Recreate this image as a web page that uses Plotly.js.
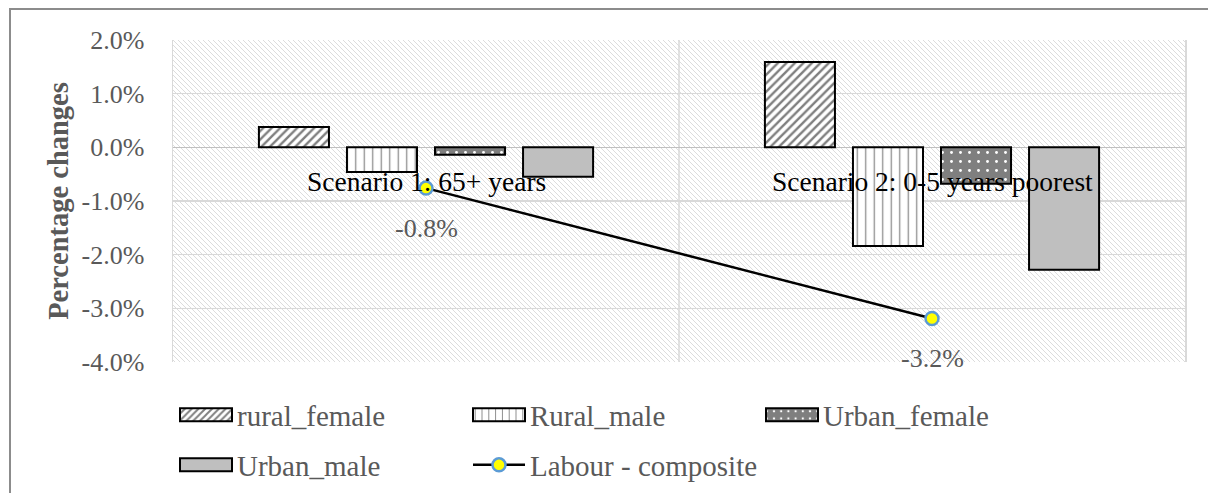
<!DOCTYPE html>
<html>
<head>
<meta charset="utf-8">
<script src="https://cdn.plot.ly/plotly-3.0.1.min.js"></script>
<style>
  html, body { margin: 0; padding: 0; background: #fff; }
  #chart { width: 1208px; height: 493px; }
</style>
</head>
<body>
<div id="chart"></div>
<script>
// ---- Data (percent) ----
var categories = ['Scenario 1: 65+ years', 'Scenario 2: 0-5 years poorest'];
var rural_female = [0.38, 1.59];
var rural_male = [-0.46, -1.84];
var urban_female = [-0.14, -0.68];
var urban_male = [-0.55, -2.28];
var labour_composite = [-0.76, -3.19];
var tickValues = [-4, -3, -2, -1, 0, 1, 2];
var tickLabels = ['-4.0%', '-3.0%', '-2.0%', '-1.0%', '0.0%', '1.0%', '2.0%'];

// ---- Layout geometry ----
var W = 1208, H = 493;
var px = function (v) { return v / W; };
var py = function (v) { return 1 - v / H; };
var xDom = [px(173), px(1185)];
var yDom = [py(362), py(40)];

var FONT = 'Liberation Serif, Times New Roman, serif';
var GREY = '#595959';

// background hatch for the plot area
var hw = 1012, hh = 322;
var hatchSvg = '<svg xmlns="http://www.w3.org/2000/svg" width="' + hw + '" height="' + hh + '">' +
  '<defs><pattern id="h" patternUnits="userSpaceOnUse" width="5" height="5">' +
  '<path d="M0,0L5,5M-2.5,2.5L2.5,7.5M2.5,-2.5L7.5,2.5" stroke="#dcdcdc" stroke-width="1"/>' +
  '</pattern></defs><rect width="' + hw + '" height="' + hh + '" fill="url(#h)"/></svg>';
var hatchUri = 'data:image/svg+xml;charset=utf-8,' + encodeURIComponent(hatchSvg);

var barLine = { color: '#000000', width: 2 };

var traces = [
  {
    type: 'bar', name: 'rural_female', x: categories, y: rural_female,
    marker: { color: '#ffffff', line: barLine,
      pattern: { shape: '/', fgcolor: '#7f7f7f', bgcolor: '#ffffff', size: 6, solidity: 0.4 } },
    legend: 'legend', hoverinfo: 'skip'
  },
  {
    type: 'bar', name: 'Rural_male', x: categories, y: rural_male,
    marker: { color: '#ffffff', line: barLine,
      pattern: { shape: '|', fgcolor: '#8c8c8c', bgcolor: '#ffffff', size: 8.5, solidity: 0.15 } },
    legend: 'legend', hoverinfo: 'skip'
  },
  {
    type: 'bar', name: 'Urban_female', x: categories, y: urban_female,
    marker: { color: '#7f7f7f', line: barLine,
      pattern: { shape: '.', fgcolor: '#ffffff', bgcolor: '#7f7f7f', size: 9, solidity: 0.08 } },
    legend: 'legend', hoverinfo: 'skip'
  },
  {
    type: 'bar', name: 'Urban_male', x: categories, y: urban_male,
    marker: { color: '#bfbfbf', line: barLine },
    legend: 'legend2', hoverinfo: 'skip'
  },
  {
    type: 'scatter', mode: 'lines+markers', name: 'Labour - composite',
    x: categories, y: labour_composite,
    line: { color: '#000000', width: 2.5 },
    marker: { color: '#ffff00', size: 13, line: { color: '#5b9bd5', width: 2.5 } },
    legend: 'legend2', hoverinfo: 'skip'
  }
];

var annotations = [];
categories.forEach(function (c) {
  annotations.push({
    x: c, y: 0, xref: 'x', yref: 'y', text: c, showarrow: false,
    yshift: -34, font: { family: FONT, size: 27.5, color: '#000000' }
  });
});
labour_composite.forEach(function (v, i) {
  annotations.push({
    x: categories[i], y: v, xref: 'x', yref: 'y', text: v.toFixed(1) + '%', showarrow: false,
    yshift: -40, font: { family: FONT, size: 26, color: GREY }
  });
});

var legendCommon = {
  orientation: 'h', xanchor: 'left', yanchor: 'middle',
  font: { family: FONT, size: 29, color: GREY },
  bgcolor: 'rgba(0,0,0,0)', borderwidth: 0,
  itemwidth: 52, entrywidth: 226, entrywidthmode: 'pixels',
  itemclick: false, itemdoubleclick: false, traceorder: 'normal'
};

var layout = {
  width: W, height: H,
  margin: { l: 0, r: 0, t: 0, b: 0, autoexpand: false },
  paper_bgcolor: '#ffffff', plot_bgcolor: 'rgba(0,0,0,0)',
  barmode: 'group', bargap: 0.304, bargroupgap: 0.2045,
  font: { family: FONT, color: GREY },
  xaxis: {
    domain: xDom, type: 'category', showticklabels: false, ticks: '',
    showgrid: false, zeroline: false, showline: false, fixedrange: true
  },
  yaxis: {
    domain: yDom, range: [tickValues[0], tickValues[tickValues.length - 1]],
    tickmode: 'array', tickvals: tickValues, ticktext: tickLabels,
    tickfont: { family: FONT, size: 26, color: GREY },
    ticks: '', ticklabelstandoff: 22,
    showgrid: true, gridcolor: '#d9d9d9', gridwidth: 1.5,
    zeroline: true, zerolinecolor: '#bfbfbf', zerolinewidth: 1.5,
    showline: true, mirror: true, linecolor: '#d9d9d9', linewidth: 1.5,
    title: { text: 'Percentage changes', standoff: 4,
      font: { family: FONT, size: 28.5, color: GREY, weight: 'bold' } },
    fixedrange: true
  },
  legend: Object.assign({ x: px(175), y: py(415) }, legendCommon),
  legend2: Object.assign({ x: px(175), y: py(465) }, legendCommon),
  images: [{
    source: hatchUri, xref: 'paper', yref: 'paper',
    x: xDom[0], y: yDom[1], sizex: xDom[1] - xDom[0], sizey: yDom[1] - yDom[0],
    xanchor: 'left', yanchor: 'top', sizing: 'stretch', layer: 'below'
  }],
  shapes: [
    { type: 'line', xref: 'x', yref: 'y', x0: 0.5, x1: 0.5,
      y0: tickValues[0], y1: tickValues[tickValues.length - 1],
      line: { color: '#d9d9d9', width: 1.5 }, layer: 'below' },
    { type: 'rect', xref: 'paper', yref: 'paper', x0: px(10), x1: 1.05, y0: -0.05, y1: py(9),
      line: { color: '#8c8c8c', width: 2 }, fillcolor: 'rgba(0,0,0,0)', layer: 'above' }
  ],
  annotations: annotations,
  showlegend: true
};

Plotly.newPlot('chart', traces, layout, { displayModeBar: false, staticPlot: true }).then(function () {
  document.querySelectorAll('[class^="legend"] .legendpoints path').forEach(function (p) {
    var d = p.getAttribute('d') || '';
    if (d.indexOf('M6,6H-6V-6H6Z') === 0) p.setAttribute('d', 'M26,6.5H-26V-6.5H26Z');
  });
});
</script>
</body>
</html>
